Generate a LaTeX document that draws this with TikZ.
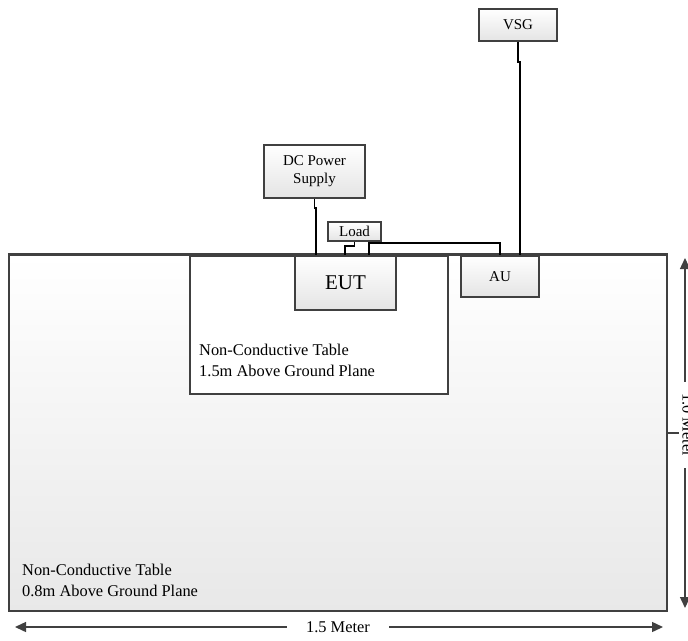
\documentclass[tikz,border=0pt]{standalone}
\usepackage{fontspec}
\setmainfont{Liberation Serif}
\usetikzlibrary{arrows.meta,calc}
\definecolor{edgegray}{HTML}{404040}
\definecolor{shadegray}{HTML}{E4E4E4}
\tikzset{
  box/.style={draw=edgegray, line width=1.4pt, top color=white, bottom color=shadegray,
    inner sep=0pt, align=center, font=\fontsize{15}{18}\selectfont},
  tabletext/.style={inner sep=0pt, align=left, anchor=north west, font=\fontsize{16.4}{20.5}\selectfont},
  cable/.style={line width=1.8pt, black},
  dim/.style={draw=edgegray, line width=1.4pt, -{Triangle[length=11pt,width=10pt]}},
  dimtext/.style={inner ysep=2pt, font=\fontsize{16.4}{20}\selectfont}
}
\begin{document}
\begin{tikzpicture}[x=1pt, y=-1pt]
%%%%%%%%%%%%%%%%%%%%%%%%%%%%%%%%%%%%%%%%%%% HELP LINES
%\draw[help lines, step=20] (0,0) grid (688,640);
\useasboundingbox (0,0) rectangle (688,640);

%%%%%%%%%%%%%%%%%%%%%%%%%%%%%%%%%%%%%%%%%%% tables
\node[box, line width=2.5pt, bottom color=shadegray!85, minimum width=658pt, minimum height=356pt] (table) at (338,433) {};
\node[box, bottom color=white, minimum width=258pt, minimum height=138pt] (tableB) at (319,325) {};
\node[tabletext] (lblB) at (199,344) {Non-Conductive Table\\1.5m Above Ground Plane};
\node[tabletext] (lblA) at (22,564) {Non-Conductive Table\\0.8m Above Ground Plane};

%%%%%%%%%%%%%%%%%%%%%%%%%%%%%%%%%%%%%%%%%%% elements
\node[box, font=\fontsize{21}{24}\selectfont, minimum width=101pt, minimum height=54pt] (eut) at (345.5,283) {EUT};
\node[box, minimum width=78pt, minimum height=41pt] (au) at (500,276.5) {AU};
\draw[edgegray, line width=2.5pt] (table.north west) -- (table.north east);
\node[box, minimum width=101pt, minimum height=53pt] (dcps) at (314.5,171.5) {DC Power\\Supply};
\node[box, minimum width=53pt, minimum height=19pt] (load) at (354.5,231.5) {Load};
\node[box, minimum width=78pt, minimum height=32pt] (vsg) at (518,25) {VSG};

%%%%% cables
\draw[cable] (dcps.south) -- ++(0,9) -| ($(eut.north west)+(22,0)$);
\draw[cable] (load.south) -- ++(0,4.5) -| ($(eut.north west)+(51,0)$);
\draw[cable] ($(eut.north west)+(75,0)$) -- ++(0,-12) -| (au.north);
\draw[cable] (vsg.south) -- ++(0,20) -| ($(au.north west)+(60,0)$);

%%%%% dimensions
\node[dimtext, inner xsep=19pt] (widthlbl) at (338,627) {1.5 Meter};
\coordinate (wl) at (15,627);
\coordinate (wr) at (663,627);
\draw[dim] (widthlbl) -- (wl);
\draw[dim] (widthlbl) -- (wr);
\node[dimtext, rotate=-90, inner xsep=11pt] (heightlbl) at (688,425) {1.0 Meter};
\coordinate (ht) at (685,258);
\coordinate (hb) at (685,608);
\draw[dim] (heightlbl.west -| ht) -- (ht);
\draw[dim] (heightlbl.east -| hb) -- (hb);
\draw[edgegray, line width=1.4pt] (table.east) -- ++(11,0);

\end{tikzpicture}
\end{document}
